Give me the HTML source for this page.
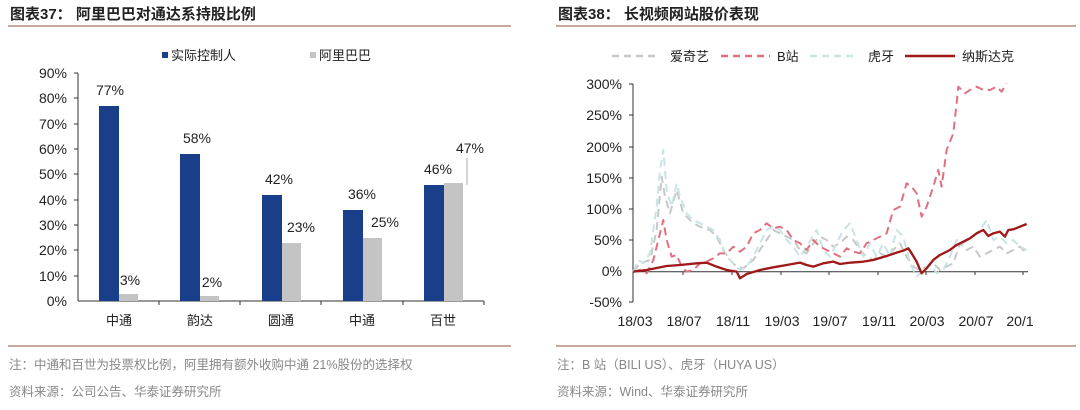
<!DOCTYPE html>
<html><head><meta charset="utf-8"><style>
body{margin:0;background:#fff;width:1080px;height:405px;overflow:hidden}
svg text{font-family:"Liberation Sans","Noto Sans CJK SC",sans-serif}
</style></head><body>
<svg width="1080" height="405" viewBox="0 0 1080 405" xmlns="http://www.w3.org/2000/svg">
<g font-size="15" font-weight="bold" fill="#222">
<text x="10" y="19">图表37：  阿里巴巴对通达系持股比例</text>
<text x="558" y="19">图表38：  长视频网站股价表现</text>
</g>
<g stroke="#b58a80" stroke-width="1.5">
<line x1="8" y1="26" x2="511" y2="26"/><line x1="556" y1="26" x2="1076" y2="26"/>
<line x1="8" y1="346" x2="511" y2="346"/><line x1="556" y1="346" x2="1076" y2="346"/>
</g>
<g font-size="12.5" fill="#888">
<text x="9" y="369">注：中通和百世为投票权比例，阿里拥有额外收购中通 21%股份的选择权</text>
<text x="9" y="396">资料来源：公司公告、华泰证券研究所</text>
<text x="557" y="369">注：B 站（BILI US）、虎牙（HUYA US）</text>
<text x="557" y="396">资料来源：Wind、华泰证券研究所</text>
</g>
<!-- left chart -->
<rect x="162" y="52" width="6" height="6" fill="#1a3f8a"/><text x="171" y="60" font-size="13" fill="#222">实际控制人</text>
<rect x="310" y="52" width="6" height="6" fill="#c4c4c4"/><text x="319" y="60" font-size="13" fill="#222">阿里巴巴</text>
<g font-size="14" fill="#222" text-anchor="end">
<text x="67" y="78">90%</text><text x="67" y="103">80%</text><text x="67" y="129">70%</text><text x="67" y="154">60%</text><text x="67" y="179">50%</text><text x="67" y="205">40%</text><text x="67" y="230">30%</text><text x="67" y="255">20%</text><text x="67" y="281">10%</text><text x="67" y="306">0%</text>
</g>
<g stroke="#333" stroke-width="1">
<line x1="78" y1="73" x2="78" y2="301"/><line x1="78" y1="301" x2="484" y2="301"/>
<line x1="74" y1="73" x2="78" y2="73"/><line x1="74" y1="98" x2="78" y2="98"/><line x1="74" y1="124" x2="78" y2="124"/><line x1="74" y1="149" x2="78" y2="149"/><line x1="74" y1="174" x2="78" y2="174"/><line x1="74" y1="200" x2="78" y2="200"/><line x1="74" y1="225" x2="78" y2="225"/><line x1="74" y1="250" x2="78" y2="250"/><line x1="74" y1="276" x2="78" y2="276"/>
<line x1="159" y1="301" x2="159" y2="305"/><line x1="240" y1="301" x2="240" y2="305"/><line x1="321" y1="301" x2="321" y2="305"/><line x1="403" y1="301" x2="403" y2="305"/><line x1="484" y1="301" x2="484" y2="305"/>
</g>
<g fill="#1a3f8a">
<rect x="99" y="106" width="20" height="195"/><rect x="180" y="154" width="20" height="147"/><rect x="262" y="195" width="20" height="106"/><rect x="343" y="210" width="20" height="91"/><rect x="424" y="185" width="20" height="116"/>
</g>
<g fill="#c4c4c4">
<rect x="119" y="294" width="19" height="7"/><rect x="200" y="296" width="19" height="5"/><rect x="282" y="243" width="19" height="58"/><rect x="363" y="238" width="19" height="63"/><rect x="444" y="183" width="19" height="118"/>
</g>
<line x1="467" y1="158" x2="467" y2="185" stroke="#aaa"/>
<g font-size="14" fill="#222" text-anchor="middle">
<text x="110" y="95">77%</text><text x="130" y="285">3%</text><text x="197" y="143">58%</text><text x="212" y="287">2%</text><text x="279" y="184">42%</text><text x="301" y="232">23%</text><text x="362" y="199">36%</text><text x="385" y="227">25%</text><text x="438" y="174">46%</text><text x="470" y="153">47%</text>
</g>
<g font-size="13" fill="#222" text-anchor="middle">
<text x="119" y="325">中通</text><text x="200" y="325">韵达</text><text x="281" y="325">圆通</text><text x="362" y="325">中通</text><text x="443" y="325">百世</text>
</g>
<!-- right chart -->
<g stroke-width="2.5" fill="none">
<line x1="612" y1="56" x2="660" y2="56" stroke="#c8c8c8" stroke-dasharray="7,5"/>
<line x1="721" y1="56" x2="770" y2="56" stroke="#e07080" stroke-dasharray="7,5"/>
<line x1="810" y1="56" x2="858" y2="56" stroke="#c8e4e4" stroke-dasharray="7,5"/>
<line x1="905" y1="56" x2="955" y2="56" stroke="#a01818"/>
</g>
<g font-size="13" fill="#222">
<text x="670" y="61">爱奇艺</text><text x="777" y="61">B站</text><text x="868" y="61">虎牙</text><text x="962" y="61">纳斯达克</text>
</g>
<g font-size="14" fill="#222" text-anchor="end">
<text x="622" y="89">300%</text><text x="622" y="120">250%</text><text x="622" y="152">200%</text><text x="622" y="183">150%</text><text x="622" y="214">100%</text><text x="622" y="245">50%</text><text x="622" y="276">0%</text><text x="622" y="307">-50%</text>
</g>
<g stroke="#333" stroke-width="1">
<line x1="633" y1="84" x2="633" y2="302"/><line x1="629" y1="84" x2="633" y2="84"/><line x1="629" y1="115" x2="633" y2="115"/><line x1="629" y1="147" x2="633" y2="147"/><line x1="629" y1="178" x2="633" y2="178"/><line x1="629" y1="209" x2="633" y2="209"/><line x1="629" y1="240" x2="633" y2="240"/><line x1="629" y1="302" x2="633" y2="302"/>
<line x1="633" y1="271.7" x2="1028" y2="271.7"/>
<line x1="683" y1="271.7" x2="683" y2="275"/><line x1="732" y1="271.7" x2="732" y2="275"/><line x1="781" y1="271.7" x2="781" y2="275"/><line x1="829" y1="271.7" x2="829" y2="275"/><line x1="878" y1="271.7" x2="878" y2="275"/><line x1="926" y1="271.7" x2="926" y2="275"/><line x1="975" y1="271.7" x2="975" y2="275"/><line x1="1023" y1="271.7" x2="1023" y2="275"/>
</g>
<g font-size="14" fill="#222" text-anchor="middle">
<text x="635" y="326">18/03</text><text x="684" y="326">18/07</text><text x="733" y="326">18/11</text><text x="782" y="326">19/03</text><text x="830" y="326">19/07</text><text x="879" y="326">19/11</text><text x="927" y="326">20/03</text><text x="976" y="326">20/07</text><text x="1020" y="326">20/1</text>
</g>
<g transform="translate(540,130) scale(0.3333)" fill="none" stroke-linejoin="round">
<polyline stroke="#c8c8c8" stroke-width="6" stroke-dasharray="24,15" points="280,425 300,400 330,390 350,300 365,140 375,200 390,250 410,180 430,250 450,270 470,285 490,295 510,300 530,320 550,360 570,390 590,410 610,415 640,390 660,360 680,330 700,300 720,310 740,320 760,330 780,360 800,370 820,340 840,320 860,330 880,350 900,340 920,320 940,330 960,360 980,380 1000,390 1020,370 1040,380 1060,360 1080,340 1100,380 1120,410 1140,420 1160,410 1180,400 1200,420 1220,410 1240,400 1260,340 1280,360 1300,350 1320,380 1340,370 1360,360 1380,350 1400,370 1420,360 1440,350 1460,370"/>
<polyline stroke="#c8e4e4" stroke-width="6" stroke-dasharray="24,15" points="280,425 295,390 310,400 330,370 350,230 360,120 370,60 380,180 395,230 410,160 420,200 440,250 460,270 480,280 500,290 520,300 540,330 560,380 580,400 600,420 620,410 640,380 660,340 680,300 700,290 720,300 740,330 760,350 780,380 800,350 830,300 850,360 870,380 890,340 910,300 930,280 950,330 970,380 990,340 1010,380 1030,340 1050,380 1070,300 1090,320 1110,400 1130,440 1150,420 1170,400 1190,430 1210,420 1230,380 1250,330 1270,340 1300,320 1320,300 1340,270 1360,330 1380,320 1400,340 1420,330 1440,350 1460,360"/>
<polyline stroke="#e07080" stroke-width="6" stroke-dasharray="24,15" points="280,425 300,420 320,430 340,390 360,310 370,270 380,330 395,380 410,375 425,410 440,425 460,420 480,400 500,395 520,385 540,370 560,370 580,350 600,365 620,350 640,310 660,300 680,280 700,295 720,290 740,300 760,330 780,340 800,360 820,330 840,350 860,360 880,370 900,380 920,355 940,365 960,370 980,340 1000,330 1020,320 1040,310 1060,240 1080,230 1100,160 1115,170 1130,190 1145,260 1160,230 1180,170 1195,120 1205,170 1220,60 1240,10 1250,-80 1255,-130 1275,-110 1290,-120 1310,-130 1330,-120 1350,-120 1370,-130 1385,-115 1400,-140"/>
<polyline stroke="#a01818" stroke-width="7" points="280,425 320,420 380,408 420,405 470,400 500,398 530,410 560,420 590,425 600,445 620,432 660,420 700,412 740,405 780,398 800,405 820,410 850,400 880,395 900,402 930,398 970,395 1000,390 1040,378 1070,368 1090,362 1105,355 1115,370 1130,395 1145,430 1160,415 1180,390 1200,375 1230,360 1250,345 1270,335 1290,325 1310,310 1330,300 1345,318 1360,310 1380,305 1395,320 1405,300 1420,298 1440,290 1460,282"/>
</g>
</svg>
</body></html>
